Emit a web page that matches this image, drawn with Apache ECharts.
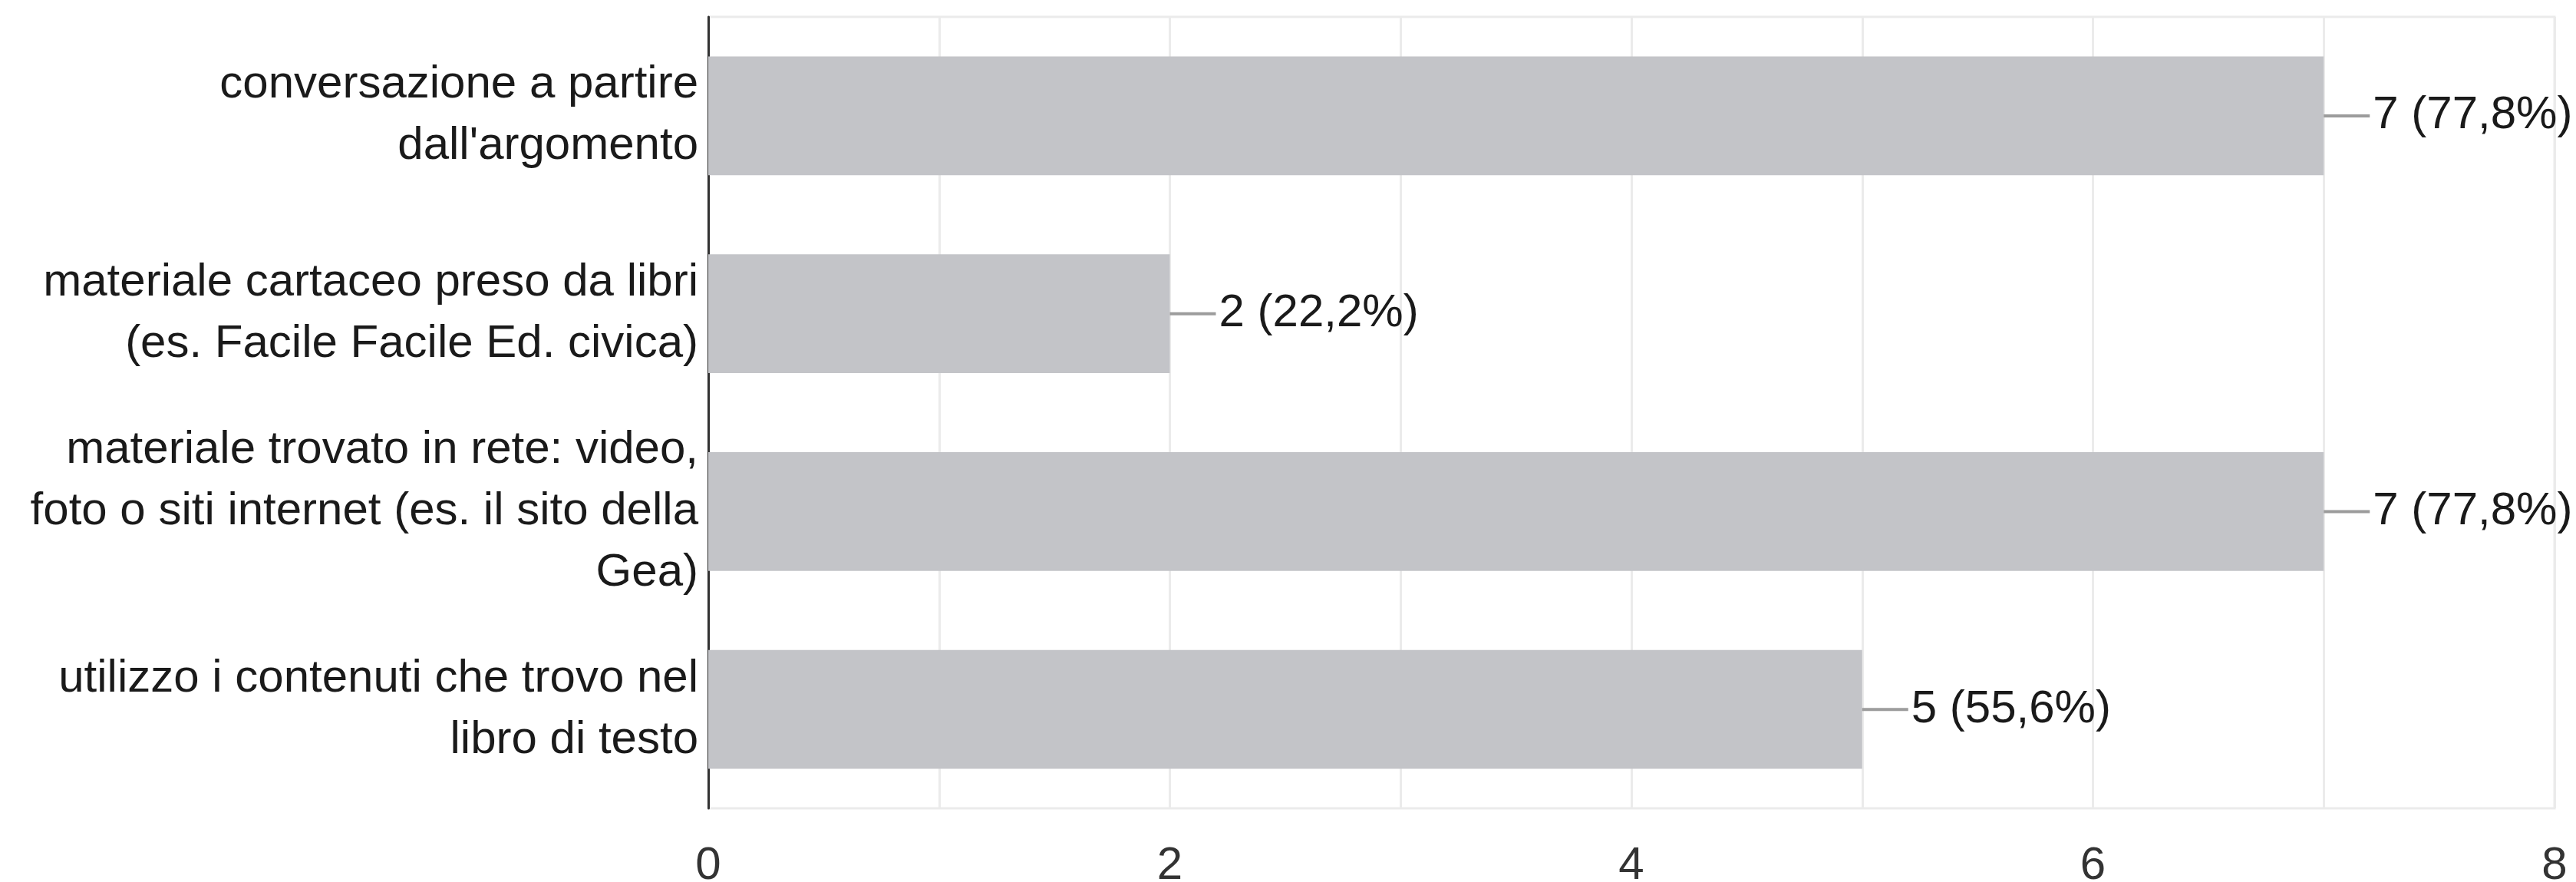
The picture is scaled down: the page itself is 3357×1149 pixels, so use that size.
<!DOCTYPE html>
<html>
<head>
<meta charset="utf-8">
<script src="https://cdn.jsdelivr.net/npm/echarts@6/dist/echarts.min.js"></script>
<style>
  html, body { margin: 0; padding: 0; background: #fff; }
  #container { width: 3357px; height: 1149px; }
</style>
</head>
<body>
<div id="container"></div>
<script>
var dom = document.getElementById("container");
var myChart = echarts.init(dom);

// risposte
var categories = [
    "conversazione a partire\ndall'argomento",
    "materiale cartaceo preso da libri\n(es. Facile Facile Ed. civica)",
    "materiale trovato in rete: video,\nfoto o siti internet (es. il sito della\nGea)",
    "utilizzo i contenuti che trovo nel\nlibro di testo"
];
var counts = [7, 2, 7, 5];
var percents = ["77,8%", "22,2%", "77,8%", "55,6%"];
var tickLabels = ["0", "2", "4", "6", "8"];

var font = "Arial, 'Liberation Sans', sans-serif";

var option = {
    animation: false,
    backgroundColor: '#fff',
    grid: {
        left: 923,
        right: 28,
        top: 22,
        bottom: 96,
        outerBoundsMode: 'none',
        show: true,
        borderColor: '#ebebeb',
        borderWidth: 3
    },
    xAxis: {
        type: 'value',
        min: 0,
        max: 8,
        interval: 1,
        axisLine: {show: false},
        axisTick: {show: false},
        splitLine: {lineStyle: {color: '#ebebeb', width: 3}},
        axisLabel: {
            margin: 45,
            fontSize: 60,
            fontFamily: font,
            color: '#333',
            formatter: function (v) {
                return tickLabels.indexOf(String(v)) >= 0 ? String(v) : '';
            }
        }
    },
    yAxis: {
        type: 'category',
        inverse: true,
        data: categories,
        axisTick: {show: false},
        axisLine: {lineStyle: {color: '#333', width: 3}},
        axisLabel: {
            margin: 13,
            fontSize: 60,
            lineHeight: 80,
            fontFamily: font,
            color: '#1a1a1a',
            align: 'right'
        }
    },
    series: [{
        type: 'bar',
        data: counts,
        barCategoryGap: '40%',
        itemStyle: {color: '#c3c4c8'},
        label: {
            show: true,
            position: 'right',
            distance: 0,
            formatter: function (p) {
                return '{line|}{t|' + p.value + ' (' + percents[p.dataIndex] + ')}';
            },
            rich: {
                line: {width: 60, height: 4, backgroundColor: '#9c9c9c'},
                t: {fontSize: 60, fontFamily: font, color: '#1a1a1a', padding: [0, 0, 0, 4]}
            }
        }
    }]
};

myChart.setOption(option);
</script>
</body>
</html>
